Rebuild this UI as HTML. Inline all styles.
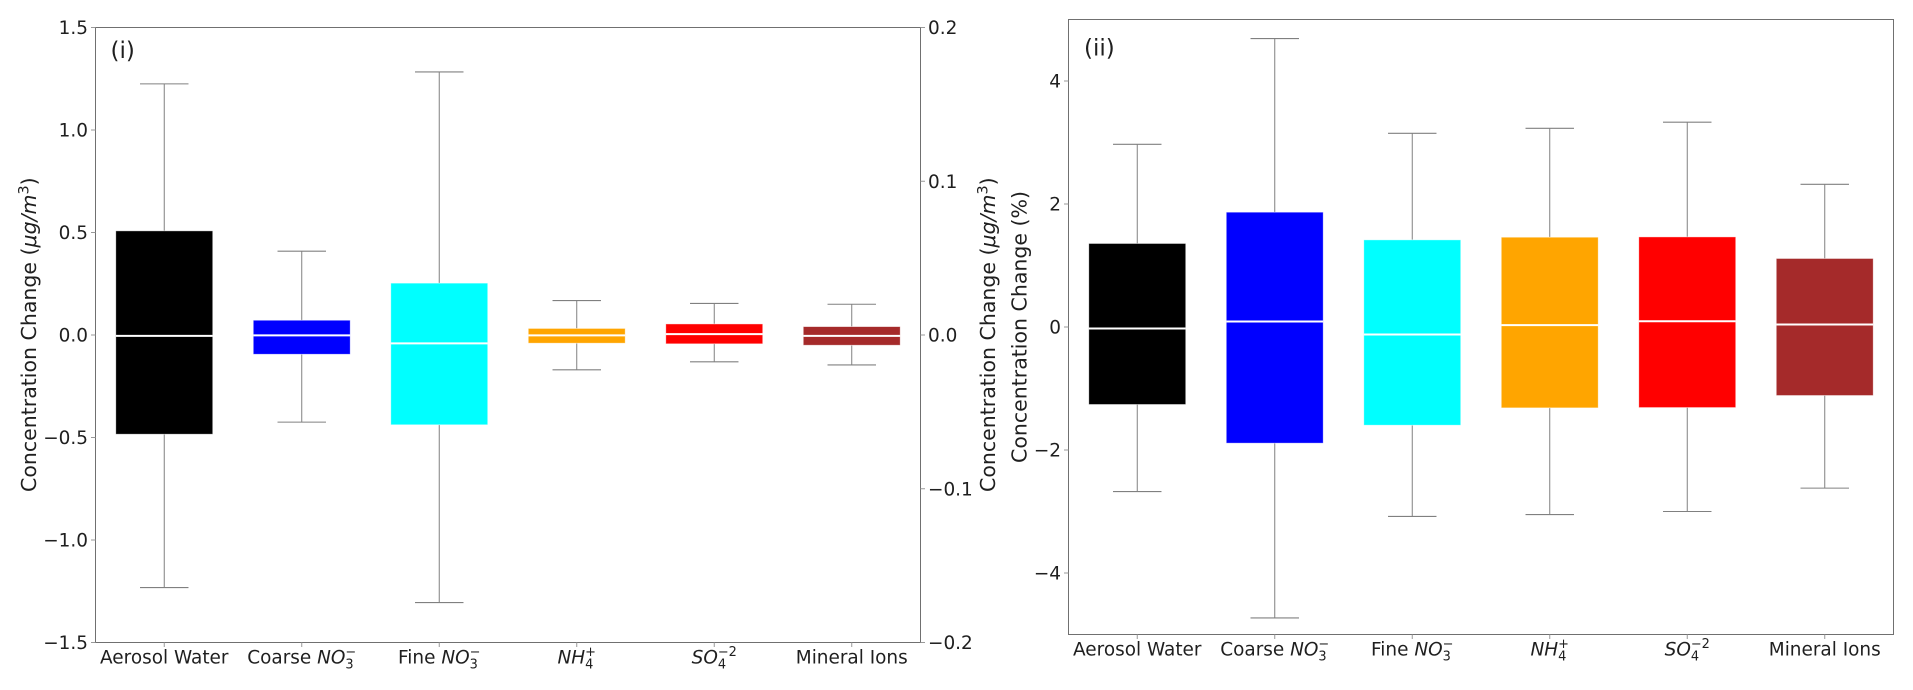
<!DOCTYPE html>
<html lang="en">
<head>
<meta charset="utf-8">
<title>Concentration change box plots</title>
<style>
  html, body { margin: 0; padding: 0; background: #fff; }
  body { width: 1913px; height: 690px; overflow: hidden; }
  svg { display: block; }
  text { font-family: "DejaVu Sans", "Liberation Sans", sans-serif; fill: #1f1f1f; }
  .tick { font-size: 18.45px; }
  .ylab { font-size: 20.5px; }
  .tag { font-size: 23px; }
</style>
</head>
<body>
<svg id="figure" xmlns="http://www.w3.org/2000/svg" width="1913" height="690" viewBox="0 0 1913 690">
  <rect x="0" y="0" width="1913" height="690" fill="#ffffff"/>

  <g id="panel1"></g>
  <g id="panel2"></g>

  <text class="tag" x="110.5" y="57.8">(i)</text>
  <text class="tag" x="1084" y="55.5">(ii)</text>

  <text class="ylab" text-anchor="middle" transform="translate(36 334.7) rotate(-90)">Concentration Change (<tspan font-style="italic">μg/m</tspan><tspan font-size="14.3" dy="-7.5">3</tspan><tspan dy="7.5">)</tspan></text>
  <text class="ylab" text-anchor="middle" transform="translate(995 334.7) rotate(-90)">Concentration Change (<tspan font-style="italic">μg/m</tspan><tspan font-size="14.3" dy="-7.5">3</tspan><tspan dy="7.5">)</tspan></text>
  <text class="ylab" text-anchor="middle" x="0" y="0" transform="translate(1026.7 327) rotate(-90)">Concentration Change (%)</text>
</svg>

<script>
// Shared category labels
const categoryPrefix = ["Aerosol Water", "Coarse ", "Fine ", "", "", "Mineral Ions"];
const categoryMath = ["", "NO", "NO", "NH", "SO", ""];
const categorySub = ["", "3", "3", "4", "4", ""];
const categorySup = ["", "−", "−", "+", "−2", ""];
const categoryColors = ["#000000", "#0000ff", "#00ffff", "#ffa500", "#ff0000", "#a52a2a"];

// Panel (i) values, in µg/m3 on the left axis
const panel1WhiskerHigh = [1.225, 0.409, 1.283, 0.168, 0.154, 0.150];
const panel1Q3 = [0.508, 0.072, 0.253, 0.032, 0.054, 0.041];
const panel1Median = [-0.004, -0.002, -0.041, -0.002, 0.004, -0.004];
const panel1Q1 = [-0.484, -0.094, -0.438, -0.040, -0.043, -0.050];
const panel1WhiskerLow = [-1.232, -0.425, -1.305, -0.170, -0.131, -0.146];

// Panel (ii) values, in percent
const panel2WhiskerHigh = [2.97, 4.69, 3.15, 3.23, 3.33, 2.32];
const panel2Q3 = [1.358, 1.867, 1.417, 1.46, 1.465, 1.114];
const panel2Median = [-0.024, 0.089, -0.122, 0.03, 0.094, 0.04];
const panel2Q1 = [-1.26, -1.889, -1.597, -1.315, -1.31, -1.114];
const panel2WhiskerLow = [-2.675, -4.73, -3.08, -3.05, -3.0, -2.62];

// Axis ticks
const panel1LeftTicks = [-1.5, -1.0, -0.5, 0.0, 0.5, 1.0, 1.5];
const panel1RightTicks = [-0.2, -0.1, 0.0, 0.1, 0.2];
const panel2Ticks = [-4, -2, 0, 2, 4];

const SVG_NS = "http://www.w3.org/2000/svg";

function svgEl(tag, parent) {
  const el = document.createElementNS(SVG_NS, tag);
  parent.appendChild(el);
  return el;
}

function setAttrs(el, attrs) {
  for (const k in attrs) el.setAttribute(k, attrs[k]);
  return el;
}

function fmtTick(v, digits) {
  return v.toFixed(digits).replace("-", "−");
}

function makeScale(d0, d1, r0, r1) {
  return function (v) { return r0 + (v - d0) / (d1 - d0) * (r1 - r0); };
}

function drawLine(parent, x1, y1, x2, y2, stroke, width, name) {
  const line = svgEl("line", parent);
  setAttrs(line, { x1: x1, y1: y1, x2: x2, y2: y2, stroke: stroke });
  line.setAttribute("stroke-width", width);
  
  
  return line;
}

function drawCategoryLabel(parent, cx, baseline, i) {
  const g = svgEl("g", parent);
  
  

  const main = svgEl("text", g);
  main.setAttribute("class", "tick");
  main.setAttribute("y", baseline);
  
  
  main.appendChild(document.createTextNode(categoryPrefix[i]));
  if (categoryMath[i]) {
    const ts = svgEl("tspan", main);
    ts.setAttribute("font-style", "italic");
    ts.textContent = categoryMath[i];
  }
  const w = main.getComputedTextLength();
  let extra = 0;
  let sub = null;
  let sup = null;
  if (categorySub[i]) {
    sub = svgEl("text", g);
    setAttrs(sub, { y: baseline + 5, "font-size": 12.9 });
    
    
    sub.textContent = categorySub[i];
    sup = svgEl("text", g);
    setAttrs(sup, { y: baseline - 7.5, "font-size": 12.9 });
    
    
    sup.textContent = categorySup[i];
    extra = Math.max(sub.getComputedTextLength(), sup.getComputedTextLength());
  }
  const start = cx - (w + extra) / 2;
  main.setAttribute("x", start);
  if (sub) sub.setAttribute("x", start + w);
  if (sup) sup.setAttribute("x", start + w);
}

function drawPanel(cfg) {
  const root = cfg.root;
  const x = makeScale(-0.5, 5.5, cfg.left, cfg.right);
  const y = makeScale(cfg.yMin, cfg.yMax, cfg.bottom, cfg.top);
  const band = (cfg.right - cfg.left) / 6;
  const boxW = band * 0.705;
  const capW = boxW / 2;
  const gray = "#808080";

  for (let i = 0; i < 6; i++) {
    const cx = x(i);
    const g = svgEl("g", root);
    
    

    drawLine(g, cx, y(cfg.high[i]), cx, y(cfg.q3[i]), gray, 1, "upper-whisker");
    drawLine(g, cx, y(cfg.q1[i]), cx, y(cfg.low[i]), gray, 1, "lower-whisker");
    drawLine(g, cx - capW / 2, y(cfg.high[i]), cx + capW / 2, y(cfg.high[i]), gray, 1.1, "upper-cap");
    drawLine(g, cx - capW / 2, y(cfg.low[i]), cx + capW / 2, y(cfg.low[i]), gray, 1.1, "lower-cap");

    const box = svgEl("rect", g);
    setAttrs(box, { x: cx - boxW / 2, y: y(cfg.q3[i]), width: boxW, height: y(cfg.q1[i]) - y(cfg.q3[i]), fill: categoryColors[i] });
    box.setAttribute("stroke", "rgba(255,255,255,0.55)");
    box.setAttribute("stroke-width", "0.8");
    
    

    drawLine(g, cx - boxW / 2, y(cfg.median[i]), cx + boxW / 2, y(cfg.median[i]), "#ffffff", 2, "median-line");
  }

  // frame
  const frame = svgEl("rect", root);
  setAttrs(frame, { x: cfg.left, y: cfg.top, width: cfg.right - cfg.left, height: cfg.bottom - cfg.top, fill: "none", stroke: "#707070" });
  frame.setAttribute("stroke-width", "1");
  
  

  // x ticks and labels
  for (let i = 0; i < 6; i++) {
    drawLine(root, x(i), cfg.bottom, x(i), cfg.bottom + 4.5, "#999999", 1, "x-tick");
    drawCategoryLabel(root, x(i), cfg.xLabelBase, i);
  }

  // left y ticks
  cfg.ticks.forEach(function (t) {
    drawLine(root, cfg.left - 4.5, y(t), cfg.left, y(t), "#999999", 1, "y-tick");
    const label = svgEl("text", root);
    setAttrs(label, { x: cfg.left - 7.5, y: y(t) + 6.7, "text-anchor": "end" });
    label.setAttribute("class", "tick");
    
    
    label.textContent = fmtTick(t, cfg.digits);
  });

  // optional secondary y axis
  if (cfg.rightTicks) {
    const y2 = makeScale(cfg.rightTicks[0], cfg.rightTicks[cfg.rightTicks.length - 1], cfg.bottom, cfg.top);
    cfg.rightTicks.forEach(function (t) {
      drawLine(root, cfg.right, y2(t), cfg.right + 4.5, y2(t), "#999999", 1, "secondary-y-tick");
      const label = svgEl("text", root);
      setAttrs(label, { x: cfg.right + 7.5, y: y2(t) + 6.7 });
      label.setAttribute("class", "tick");
      
      
      label.textContent = fmtTick(t, 1);
    });
  }
}

drawPanel({
  root: document.getElementById("panel1"),
  left: 95.5, right: 920.5, top: 27.5, bottom: 642.5,
  yMin: -1.5, yMax: 1.5,
  high: panel1WhiskerHigh, q3: panel1Q3, median: panel1Median, q1: panel1Q1, low: panel1WhiskerLow,
  ticks: panel1LeftTicks, digits: 1, rightTicks: panel1RightTicks,
  xLabelBase: 663.3
});

drawPanel({
  root: document.getElementById("panel2"),
  left: 1068.5, right: 1893.5, top: 19.5, bottom: 634.5,
  yMin: -5, yMax: 5,
  high: panel2WhiskerHigh, q3: panel2Q3, median: panel2Median, q1: panel2Q1, low: panel2WhiskerLow,
  ticks: panel2Ticks, digits: 0, rightTicks: null,
  xLabelBase: 655.5
});
</script>
</body>
</html>
